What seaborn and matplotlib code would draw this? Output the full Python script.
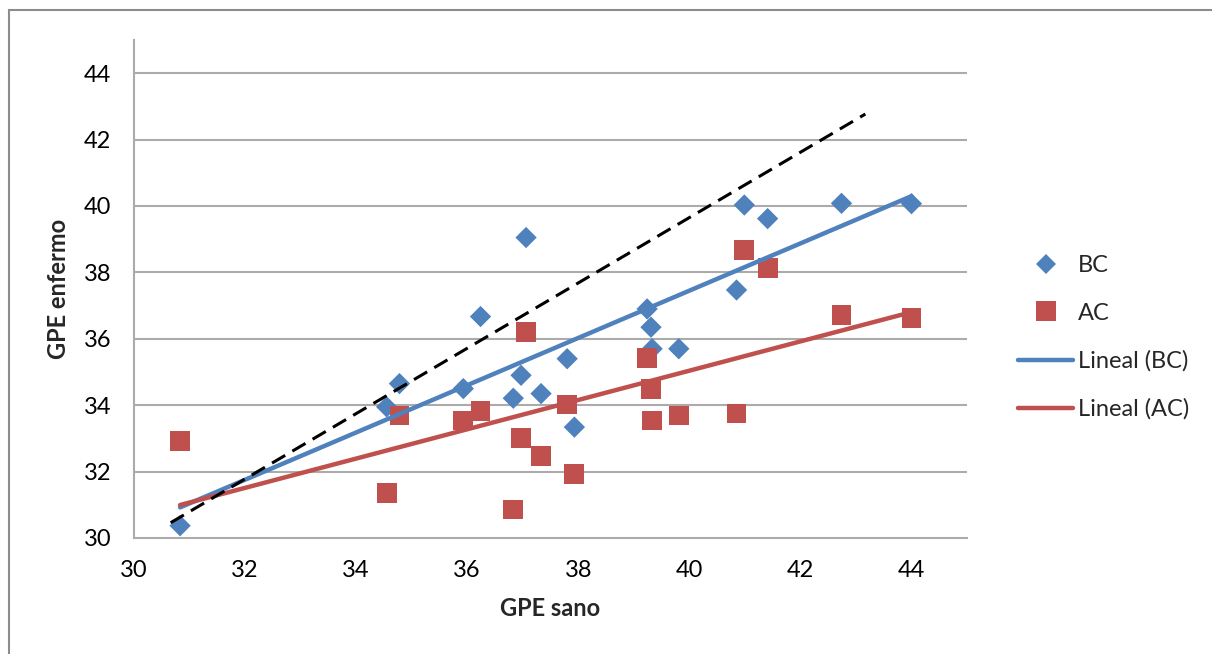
import numpy as np
import pandas as pd
import matplotlib
matplotlib.use("Agg")
import matplotlib.pyplot as plt
from matplotlib.patches import Rectangle
from matplotlib.lines import Line2D
import seaborn as sns

# ---- data ----
gpe_sano = [30.83, 34.55, 34.78, 35.93, 36.24, 36.83, 36.97, 37.06, 37.33, 37.80,
            37.93, 39.24, 39.31, 39.33, 39.81, 40.85, 40.99, 41.41, 42.74, 44.00]
bc_enfermo = [30.37, 33.95, 34.65, 34.50, 36.67, 34.21, 34.90, 39.05, 34.35, 35.40,
              33.34, 36.90, 36.35, 35.70, 35.70, 37.47, 40.03, 39.62, 40.08, 40.07]
ac_enfermo = [32.91, 31.36, 33.69, 33.54, 33.82, 30.86, 33.02, 36.20, 32.48, 34.02,
              31.94, 35.43, 34.48, 33.54, 33.69, 33.75, 38.67, 38.12, 36.72, 36.63]
ref_x = [30.66, 43.17]
ref_y = [30.46, 42.77]
x_ticks = [30, 32, 34, 36, 38, 40, 42, 44]
y_ticks = [30, 32, 34, 36, 38, 40, 42, 44]
series_names = ["BC", "AC"]
trend_labels = ["Lineal (BC)", "Lineal (AC)"]

BLUE = "#4F81BD"
RED = "#C0504D"
GRID = "#ABABAB"

df = pd.DataFrame({
    "GPE sano": gpe_sano * 2,
    "GPE enfermo": bc_enfermo + ac_enfermo,
    "serie": ["BC"] * len(gpe_sano) + ["AC"] * len(gpe_sano),
})

sns.set_style("white")
plt.rcParams["font.family"] = ["Lato", "DejaVu Sans"]
FS = 17

fig = plt.figure(figsize=(12.12, 6.54), dpi=100)
ax = fig.add_axes([134/1212, 1-538/654, (967-134)/1212, (538-40)/654])

# scatter
sns.scatterplot(data=df[df.serie == "BC"], x="GPE sano", y="GPE enfermo",
                marker="D", s=118, color=BLUE, edgecolor="none", ax=ax, zorder=3,
                legend=False)
sns.scatterplot(data=df[df.serie == "AC"], x="GPE sano", y="GPE enfermo",
                marker="s", s=205, color=RED, edgecolor="none", ax=ax, zorder=3,
                legend=False)

# trendlines
sns.regplot(data=df[df.serie == "BC"], x="GPE sano", y="GPE enfermo", scatter=False,
            ci=None, truncate=True, color=BLUE, line_kws=dict(lw=3.2, zorder=4,
            solid_capstyle="round"), ax=ax)
sns.regplot(data=df[df.serie == "AC"], x="GPE sano", y="GPE enfermo", scatter=False,
            ci=None, truncate=True, color=RED, line_kws=dict(lw=3.2, zorder=4,
            solid_capstyle="round"), ax=ax)

# dashed reference line
ax.plot(ref_x, ref_y, color="black", lw=2.2, dashes=(5, 2.7), zorder=5)

ax.set_xlim(30, 45)
ax.set_ylim(30, 45)
ax.set_xticks(x_ticks)
ax.set_yticks(y_ticks)
ax.set_xticklabels([str(t) for t in x_ticks], fontsize=FS)
ax.set_yticklabels([str(t) for t in y_ticks], fontsize=FS)
for t in y_ticks[1:]:
    ax.axhline(t, color=GRID, lw=1.5, zorder=1)

for s in ["top", "right"]:
    ax.spines[s].set_visible(False)
for s in ["left", "bottom"]:
    ax.spines[s].set_color(GRID)
    ax.spines[s].set_linewidth(1.5)
ax.tick_params(axis="both", direction="out", length=5.5, width=1.2, color=GRID,
               labelcolor="black")
ax.tick_params(axis="y", pad=11)
ax.tick_params(axis="x", pad=10)

ax.set_xlabel("GPE sano", fontsize=FS, fontweight="bold", labelpad=12)
ax.set_ylabel("GPE enfermo", fontsize=FS, fontweight="bold", labelpad=10)

# legend
handles = [
    Line2D([], [], marker="D", color=BLUE, ls="none", markersize=10.5, markeredgewidth=0),
    Line2D([], [], marker="s", color=RED, ls="none", markersize=14, markeredgewidth=0),
    Line2D([], [], color=BLUE, lw=3.2, solid_capstyle="round"),
    Line2D([], [], color=RED, lw=3.2, solid_capstyle="round"),
]
labels = series_names + trend_labels
fig.legend(handles, labels, loc="upper left", bbox_to_anchor=(1018/1212, 1-255/654),
           frameon=False, fontsize=FS, handlelength=2.35, handletextpad=0.2,
           labelspacing=1.13, borderaxespad=0, borderpad=0)

# chart frame
fig.patches.append(Rectangle((9/1212, -0.2), 1.2, 1.2 - 10/654, transform=fig.transFigure,
                             fill=False, edgecolor="#8C8C8C", lw=1.5, zorder=0))

fig.savefig("out.png", dpi=100)
